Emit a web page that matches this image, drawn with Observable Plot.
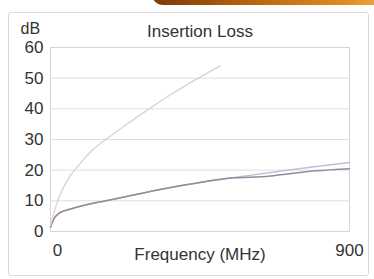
<!DOCTYPE html>
<html>
<head>
<meta charset="utf-8">
<script src="https://cdn.jsdelivr.net/npm/d3@7"></script>
<script src="https://cdn.jsdelivr.net/npm/@observablehq/plot@0.6"></script>
<style>
  html, body { margin: 0; padding: 0; background: #fff; }
  #wrap { position: relative; width: 374px; height: 279px; overflow: hidden; font-family: "Liberation Sans", Arial, sans-serif; }
  #deco { position: absolute; left: 152px; top: -6px; width: 240px; height: 11px; border-radius: 0 0 40px 60px;
          background: linear-gradient(90deg, #7a3a08 0%, #b8620f 40%, #e08a1e 80%, #f0b050 100%); }
  #panel { position: absolute; left: 8px; top: 12px; width: 361px; height: 264px; border: 1px solid #dadada; border-radius: 3px; box-sizing: border-box; }
  #chart { position: absolute; left: 0; top: 0; }
</style>
</head>
<body>
<div id="wrap">
  <div id="deco"></div>
  <div id="panel"></div>
  <div id="chart"></div>
</div>
<script>
const title = "Insertion Loss";
const yUnit = "dB";
const xLabel = "Frequency (MHz)";
const yTicks = [0, 10, 20, 30, 40, 50, 60];
const xTicks = [0, 900];

// Steep curve (light)
const steepFreq = [0, 20, 50, 84, 125, 175, 230, 290, 360, 445, 511];
const steepDb   = [2, 9.5, 16.6, 21.5, 26.4, 30.7, 35, 39.5, 44.5, 50, 54];

// Upper purple curve
const upperFreq = [0, 10, 24, 66, 114, 186, 250, 350, 450, 550, 600, 700, 800, 900];
const upperDb   = [1.5, 4, 5.8, 7.5, 8.9, 10.4, 11.9, 14.1, 16, 17.5, 18.3, 19.8, 21.2, 22.5];

// Lower purple curve
const lowerFreq = [0, 10, 24, 66, 114, 186, 250, 350, 450, 550, 600, 650, 700, 800, 900];
const lowerDb   = [1.5, 4, 5.8, 7.5, 8.9, 10.4, 11.9, 14.1, 16, 17.5, 17.7, 17.9, 18.6, 19.8, 20.5];

const series = [
  {name: "steep", f: steepFreq, d: steepDb},
  {name: "upper", f: upperFreq, d: upperDb},
  {name: "lower", f: lowerFreq, d: lowerDb}
];
const rows = series.flatMap(s => s.f.map((f, i) => ({series: s.name, f, db: s.d[i]})));

const FS = 17;
const plot = Plot.plot({
  width: 374,
  height: 279,
  marginLeft: 50,
  marginRight: 25,
  marginTop: 47,
  marginBottom: 48,
  style: {fontFamily: "'Liberation Sans', Arial, sans-serif", fontSize: FS + "px", color: "#333", background: "transparent", overflow: "visible"},
  x: {domain: [0, 900]},
  y: {domain: [0, 60]},
  color: {domain: ["steep", "upper", "lower"], range: ["#ddd0d5", "#c9b9d3", "#958a9c"]},
  marks: [
    Plot.gridY(yTicks, {stroke: "#dedede", strokeOpacity: 1}),
    Plot.frame({stroke: "#d6d6d6"}),
    Plot.axisY(yTicks, {tickSize: 0, tickPadding: 7, label: null, fontSize: FS, fill: "#333"}),
    Plot.axisX([xTicks[0]], {tickSize: 0, tickPadding: 12, label: null, fontSize: FS, fill: "#333", dx: 7}),
    Plot.axisX([xTicks[1]], {tickSize: 0, tickPadding: 12, label: null, fontSize: FS, fill: "#333"}),
    Plot.text([xLabel], {frameAnchor: "bottom", dy: 28, fontSize: FS, fill: "#333"}),
    Plot.text([title], {frameAnchor: "top", dy: -23, fontSize: FS, fill: "#333"}),
    Plot.text([yUnit], {frameAnchor: "top-left", dx: -30, dy: -25, textAnchor: "start", fontSize: 16, fill: "#333"}),
    Plot.line(rows.filter(r => r.series !== "steep"), {x: "f", y: "db", z: "series", stroke: "series", strokeWidth: 1.5, curve: "monotone-x"}),
    Plot.line(rows.filter(r => r.series === "steep"), {x: "f", y: "db", stroke: "series", strokeWidth: 1.3, curve: "monotone-x"})
  ]
});
document.getElementById("chart").appendChild(plot);
</script>
</body>
</html>
